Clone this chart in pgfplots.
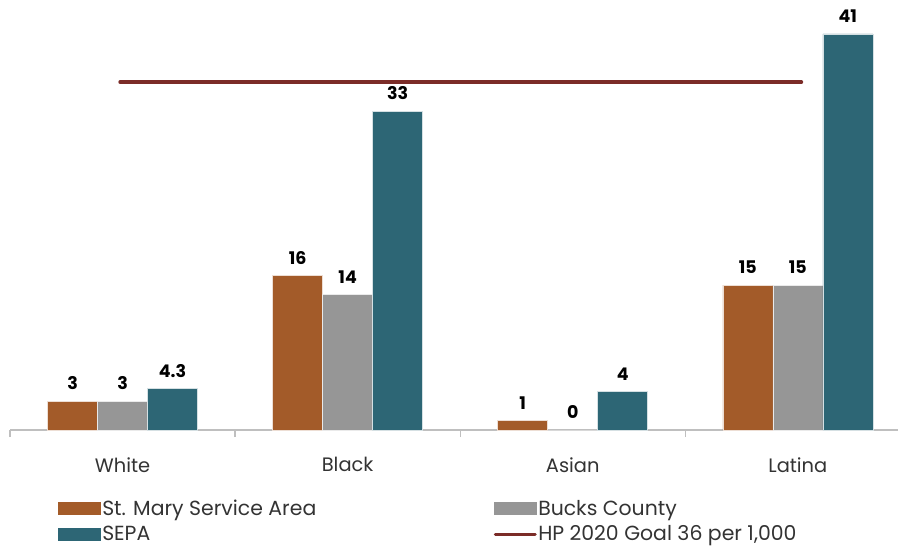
\documentclass[border=0pt]{standalone}
\usepackage{pgfplots}
\pgfplotsset{compat=1.18}
\usepackage{fontspec}
\setmainfont{Poppins}
\definecolor{stmary}{RGB}{163,91,41}
\definecolor{bucks}{RGB}{150,150,150}
\definecolor{sepa}{RGB}{45,102,117}
\definecolor{hpline}{RGB}{123,44,40}
\definecolor{axgray}{RGB}{191,191,191}
\begin{document}
\begin{tikzpicture}
\path[use as bounding box] (-10bp,-118bp) rectangle (892bp,430bp);
\begin{axis}[
  scale only axis,
  width=888bp, height=430bp,
  xmin=-0.5, xmax=3.445, ymin=0, ymax=44.5,
  ybar=0pt, bar width=0.2222,
  axis y line=none,
  axis x line*=bottom,
  x axis line style={axgray, line width=1.2bp},
  xtick={0,1,2,3},
  xticklabels={White,Black,Asian,Latina},
  major tick length=0pt,
  xticklabel style={font=\fontsize{19.5}{21}\selectfont, text=black!80, yshift=-24bp},
  extra x ticks={-0.5,0.5,1.5,2.5},
  extra x tick labels={},
  extra x tick style={major tick length=7bp, tick align=outside, tick style={axgray, line width=1.2bp}},
  clip=false,
  /pgf/number format/assume math mode=true,
  nodes near coords style={font=\fontsize{17.5}{19}\selectfont\bfseries, text=black, yshift=7.5bp},
  legend columns=2,
  legend cell align=left,
  legend style={draw=none, fill=none, at={(axis description cs:0.054,0)}, anchor=north west, yshift=-68bp,
     inner sep=0pt, row sep=6bp, nodes={inner sep=1.5bp},
     font=\fontsize{20.5}{22}\selectfont, text=black!80},
]
\addplot[bar shift=-0.2222, fill=stmary, draw=white!80!stmary, line width=0.6bp, nodes near coords,
  legend image code/.code={\fill[stmary] (0bp,-6bp) rectangle (42bp,6bp);}]
  coordinates {(0,3) (1,16) (2,1) (3,15)};
\addlegendentry{\makebox[390bp][l]{St. Mary Service Area}}
\addplot[bar shift=0, fill=bucks, draw=white!80!bucks, line width=0.6bp, nodes near coords,
  legend image code/.code={\fill[bucks] (0bp,-6bp) rectangle (42bp,6bp);}]
  coordinates {(0,3) (1,14) (2,0) (3,15)};
\addlegendentry{Bucks County}
\addplot[bar shift=0.2222, fill=sepa, draw=white!80!sepa, line width=0.6bp, nodes near coords,
  legend image code/.code={\fill[sepa] (0bp,-6bp) rectangle (42bp,6bp);}]
  coordinates {(0,4.3) (1,33) (2,4) (3,41)};
\addlegendentry{\makebox[390bp][l]{SEPA}}
\addplot[sharp plot, hpline, line width=4bp, line cap=round, mark=none,
  legend image code/.code={\draw[hpline, line width=3bp, line cap=round] (1bp,0bp) -- (41bp,0bp);}]
  coordinates {(-0.01,36) (3.015,36)};
\addlegendentry{HP 2020 Goal 36 per 1,000}
\end{axis}
\end{tikzpicture}
\end{document}
